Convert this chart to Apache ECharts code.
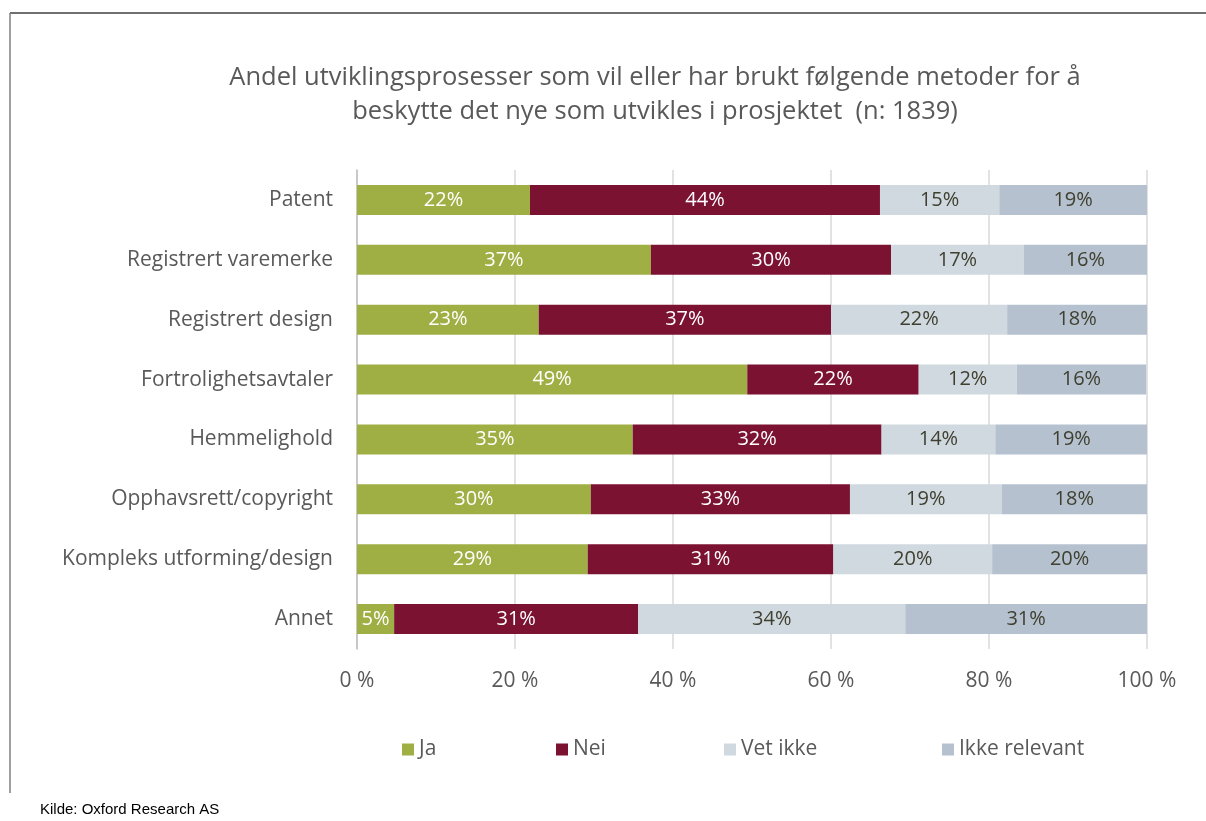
<!DOCTYPE html>
<html><head><meta charset="utf-8">
<script src="https://cdn.jsdelivr.net/npm/echarts@6/dist/echarts.min.js"></script>
<style>html,body{margin:0;padding:0;background:#fff}#c{width:1206px;height:821px}</style>
</head><body><div id="c"></div>
<script>
const categories = ['Patent','Registrert varemerke','Registrert design','Fortrolighetsavtaler','Hemmelighold','Opphavsrett/copyright','Kompleks utforming/design','Annet'];
const ja = [21.9, 37.2, 23.0, 49.4, 34.9, 29.6, 29.2, 4.7];
const nei = [44.3, 30.4, 37.0, 21.7, 31.5, 32.8, 31.1, 30.9];
const vetIkke = [15.1, 16.8, 22.3, 12.4, 14.4, 19.2, 20.1, 33.8];
const ikkeRelevant = [18.7, 15.6, 17.7, 16.4, 19.2, 18.4, 19.6, 30.6];
const xTicks = [0, 20, 40, 60, 80, 100];
const seriesNames = ['Ja','Nei','Vet ikke','Ikke relevant'];
const colors = ['#9FAF43','#7B1232','#D0D9E0','#B5C1CF'];
const labelColors = ['#ffffff','#ffffff','#404030','#404030'];
const FONT = '"Open Sans", "Noto Sans", sans-serif';

const chart = echarts.init(document.getElementById('c'));
const dataSets = [ja, nei, vetIkke, ikkeRelevant];
const legendLeft = [397, 551, 719, 937];
chart.setOption({
  animation: false,
  title: {
    text: 'Andel utviklingsprosesser som vil eller har brukt følgende metoder for å\nbeskytte det nye som utvikles i prosjektet  (n: 1839)',
    left: 650, top: 56, textAlign: 'center',
    textStyle: { fontFamily: FONT, fontSize: 25.5, fontWeight: 'normal', color: '#595959', lineHeight: 34 }
  },
  legend: seriesNames.map((n, i) => ({
    data: [n], left: legendLeft[i], top: 734, itemWidth: 12, itemHeight: 12, icon: 'rect',
    textStyle: { fontFamily: FONT, fontSize: 21, color: '#595959' }
  })),
  grid: { left: 357, right: 59, top: 170, bottom: 172 },
  xAxis: {
    type: 'value', min: 0, max: 100, interval: 20,
    axisLine: { show: false }, axisTick: { show: false },
    splitLine: { lineStyle: { color: '#D9D9D9', width: 1.5 } },
    axisLabel: { fontFamily: FONT, fontSize: 21, color: '#595959', margin: 22,
      formatter: v => xTicks.includes(v) ? v + ' %' : '' }
  },
  yAxis: {
    type: 'category', data: categories, inverse: true,
    axisLine: { show: true, lineStyle: { color: '#BFBFBF', width: 1.5 } },
    axisTick: { show: false },
    axisLabel: { fontFamily: FONT, fontSize: 21, color: '#595959', margin: 24 }
  },
  graphic: [
    { type: 'line', shape: { x1: 10, y1: 13, x2: 1206, y2: 13 }, style: { stroke: '#404040', lineWidth: 1.5 } },
    { type: 'line', shape: { x1: 10, y1: 13, x2: 10, y2: 793 }, style: { stroke: '#7F7F7F', lineWidth: 1.5 } },
    { type: 'text', left: 40, top: 802, style: { text: 'Kilde: Oxford Research AS', font: '15px "Liberation Sans", Arial, sans-serif', fill: '#000' } }
  ],
  series: seriesNames.map((n, i) => ({
    name: n, type: 'bar', stack: 'total', barWidth: 30, data: dataSets[i],
    itemStyle: { color: colors[i] },
    label: { show: true, position: 'inside', fontFamily: FONT, fontSize: 20, color: labelColors[i],
      formatter: p => Math.round(p.value) + '%' }
  }))
});
</script></body></html>
